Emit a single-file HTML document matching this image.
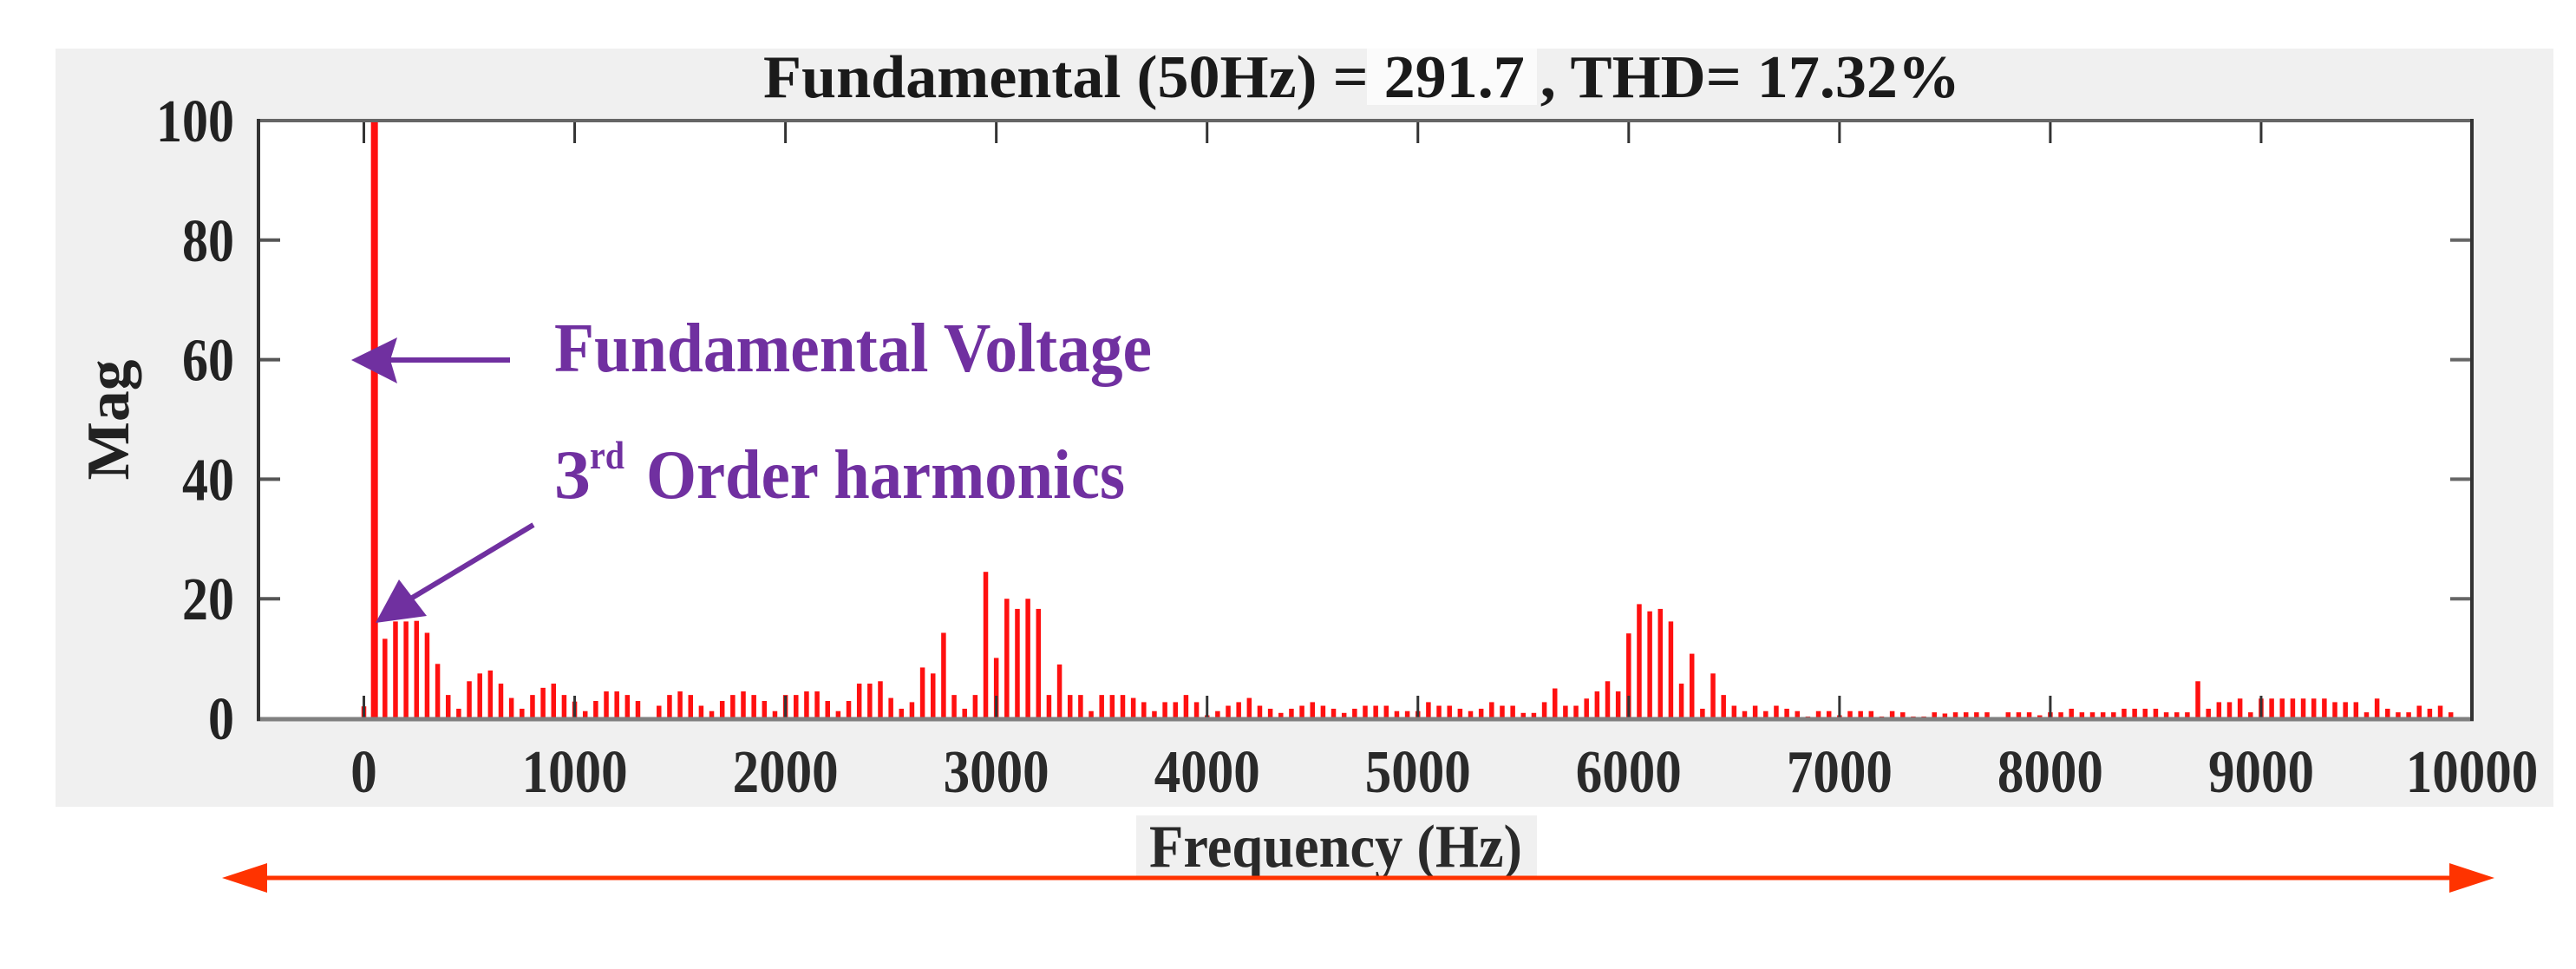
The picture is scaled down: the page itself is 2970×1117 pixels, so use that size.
<!DOCTYPE html>
<html><head><meta charset="utf-8"><style>
html,body{margin:0;padding:0;background:#fff;}
svg{display:block;}
text{font-family:"Liberation Serif",serif;font-weight:bold;}
</style></head><body>
<svg id="chart" width="2970" height="1117" viewBox="0 0 2970 1117" xmlns="http://www.w3.org/2000/svg">
<rect x="64" y="56" width="2880" height="874" fill="#f0f0f0"/>
<rect x="1576" y="56" width="196" height="65" fill="#fbfbfb"/>
<text x="880" y="112" font-size="70" fill="#1a1a1a" textLength="1380" lengthAdjust="spacingAndGlyphs">Fundamental (50Hz) = 291.7 , THD= 17.32%</text>
<rect x="298" y="139" width="2552" height="689" fill="#fff"/>
<g id="bars"></g>
<g id="ticks"></g>
<line x1="296" y1="139" x2="2852" y2="139" stroke="#666" stroke-width="4"/>
<line x1="296" y1="829" x2="2852" y2="829" stroke="#808080" stroke-width="5"/>
<line x1="298" y1="137" x2="298" y2="831" stroke="#333" stroke-width="4"/>
<line x1="2850" y1="137" x2="2850" y2="831" stroke="#333" stroke-width="4"/>
<g id="ylabels"></g>
<g id="xlabels"></g>
<text transform="translate(148,484) rotate(-90)" text-anchor="middle" font-size="70" fill="#222" textLength="139" lengthAdjust="spacingAndGlyphs">Mag</text>
<rect x="1310" y="940" width="462" height="72" fill="#f0f0f0"/>
<text x="1325" y="999" font-size="70" fill="#2a2a2a" textLength="430" lengthAdjust="spacingAndGlyphs">Frequency (Hz)</text>
<g>
<line x1="300" y1="1012" x2="2830" y2="1012" stroke="#ff3300" stroke-width="5"/>
<polygon points="256,1012 308,995 308,1029" fill="#ff3300"/>
<polygon points="2876,1012 2824,995 2824,1029" fill="#ff3300"/>
</g>
<g>
<line x1="588" y1="415" x2="445" y2="415" stroke="#7030a0" stroke-width="6"/>
<polygon points="405,415 458,389 450,415 458,442" fill="#7030a0"/>
<text x="639" y="428" font-size="80" fill="#7030a0" textLength="689" lengthAdjust="spacingAndGlyphs">Fundamental Voltage</text>
</g>
<g>
<line x1="615" y1="605" x2="462" y2="697" stroke="#7030a0" stroke-width="6"/>
<polygon points="433,718 460,668 492,710" fill="#7030a0"/>
<text x="639" y="574" font-size="80" fill="#7030a0" textLength="42" lengthAdjust="spacingAndGlyphs">3</text>
<text x="680" y="540" font-size="46" fill="#7030a0" textLength="40" lengthAdjust="spacingAndGlyphs">rd</text>
<text x="745" y="574" font-size="80" fill="#7030a0" textLength="552" lengthAdjust="spacingAndGlyphs">Order harmonics</text>
</g>
</svg>
<script>
const harmonicStepHz = 50;
const magnitudes = [2,100,13.3,16.2,16.2,16.3,14.3,9.1,3.9,1.6,
6.2,7.5,8.0,5.8,3.4,1.6,3.9,5.1,5.8,3.9,
2.8,1.2,2.9,4.5,4.5,3.9,2.9,0,2.1,3.9,
4.5,3.9,2.1,1.2,2.9,3.9,4.5,3.9,2.9,1.2,
3.9,3.9,4.5,4.5,2.9,1.2,2.9,5.8,5.8,6.2,
3.4,1.6,2.7,8.5,7.5,14.3,3.9,1.6,3.9,24.5,
10.1,20.0,18.3,20.0,18.3,3.9,9.0,3.9,3.9,1.2,
3.9,3.9,3.9,3.4,2.7,1.2,2.7,2.7,3.9,2.7,
0.5,1.2,2.1,2.7,3.4,2.1,1.6,0.9,1.6,2.1,
2.7,2.1,1.6,0.9,1.6,2.1,2.1,2.1,1.2,1.2,
1.2,2.7,2.1,2.1,1.6,1.2,1.6,2.7,2.1,2.1,
0.9,0.9,2.7,5.0,2.1,2.1,3.3,4.5,6.2,4.5,
14.2,19.1,17.9,18.3,16.2,5.8,10.8,1.6,7.5,3.9,
2.1,1.2,2.1,1.2,2.1,1.6,1.2,0.3,1.2,1.2,
0.5,1.2,1.2,1.2,0.3,1.2,1.0,0.3,0.3,1.0,
0.8,1.0,1.0,1.0,1.0,0,1.0,1.0,1.0,0.5,
1.0,1.0,1.6,1.0,1.0,1.0,1.0,1.6,1.6,1.6,
1.6,1.0,1.0,1.0,6.2,1.6,2.7,2.7,3.3,1.0,
3.3,3.3,3.3,3.3,3.3,3.3,3.3,2.7,2.7,2.7,
1.0,3.3,1.6,1.0,1.0,2.1,1.6,2.1,1.0];
const xTicks = [0,1000,2000,3000,4000,5000,6000,7000,8000,9000,10000];
const xTickLabels = ["0","1000","2000","3000","4000","5000","6000","7000","8000","9000","10000"];
const yTicks = [0,20,40,60,80,100];
const yTickLabels = ["0","20","40","60","80","100"];

const NS = "http://www.w3.org/2000/svg";
const X0 = 298, X1 = 2850, Y0 = 828, Y1 = 139;
const xMin = -500, xMax = 10000, yMin = 0, yMax = 100;
function xs(v){ return X0 + (v - xMin) / (xMax - xMin) * (X1 - X0); }
function ys(v){ return Y0 - (v - yMin) / (yMax - yMin) * (Y0 - Y1); }
function mk(tag, attrs){ const e = document.createElementNS(NS, tag); for (const k in attrs) e.setAttribute(k, attrs[k]); return e; }

const bars = document.getElementById('bars');
magnitudes.forEach((m, i) => {
  if (m <= 0) return;
  const f = i * harmonicStepHz;
  const w = i === 1 ? 8 : 5.5;
  const top = ys(Math.min(m, yMax));
  const r = mk('rect', {x: xs(f) - w/2, y: top, width: w, height: Y0 - top, fill: '#ff1010'});
  
  
  bars.appendChild(r);
});

const ticks = document.getElementById('ticks');
const xl = document.getElementById('xlabels');
xTicks.forEach((t, i) => {
  const x = xs(t);
  const tb = mk('line', {x1: x, y1: Y0, x2: x, y2: Y0 - 26, stroke: '#333', 'stroke-width': 3});
  
  
  ticks.appendChild(tb);
  const tt = mk('line', {x1: x, y1: Y1, x2: x, y2: Y1 + 26, stroke: '#333', 'stroke-width': 3});
  
  
  ticks.appendChild(tt);
  const s = xTickLabels[i];
  const lab = mk('text', {x: x, y: 913, 'text-anchor': 'middle', 'font-size': 70, fill: '#2a2a2a', textLength: s.length * 30.5, lengthAdjust: 'spacingAndGlyphs'});
  
  
  lab.textContent = s;
  xl.appendChild(lab);
});
const yl = document.getElementById('ylabels');
yTicks.forEach((t, i) => {
  const y = ys(t);
  if (t > yMin && t < yMax) {
    const a = mk('line', {x1: X0, y1: y, x2: X0 + 25, y2: y, stroke: '#555', 'stroke-width': 4});
    
    
    ticks.appendChild(a);
    const b = mk('line', {x1: X1, y1: y, x2: X1 - 25, y2: y, stroke: '#666', 'stroke-width': 4});
    
    
    ticks.appendChild(b);
  }
  const s = yTickLabels[i];
  const lab = mk('text', {x: 270, y: y + 24, 'text-anchor': 'end', 'font-size': 70, fill: '#222', textLength: s.length * 30, lengthAdjust: 'spacingAndGlyphs'});
  
  
  lab.textContent = s;
  yl.appendChild(lab);
});
</script>
</body></html>
